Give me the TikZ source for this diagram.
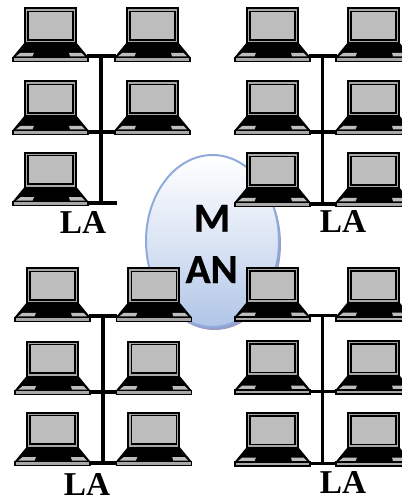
\documentclass[tikz,border=0pt]{standalone}
\usepackage{fontspec}
\usepackage{xcolor}
\usetikzlibrary{shapes.geometric}
\newfontfamily\labfont{Liberation Serif}[BoldFont={Liberation Serif Bold}]
\newfontfamily\manfont{Carlito}[BoldFeatures={FakeBold=0.6}]
\definecolor{screenband}{HTML}{A8A8A8}
\definecolor{screengray}{HTML}{BDBDBD}
\definecolor{manborder}{HTML}{8FAADC}
\definecolor{manfill}{HTML}{B0C5E7}
\tikzset{
	bus/.style={line width=2.7pt,black},
	lablan/.style={anchor=base,inner sep=0pt,font=\labfont\bfseries\fontsize{25}{25}\selectfont},
	labman/.style={anchor=base,inner sep=0pt,font=\manfont\bfseries\fontsize{31}{31}\selectfont},
	pics/laptop/.style={code={
		\draw[black,line width=1.4pt,fill=screenband] (1,1) rectangle (52,36);
		\draw[black,line width=1.1pt,fill=screengray] (4,4) rectangle (49,32.5);
		\fill[black] (0,36) -- (53,36) -- (64.5,50) -- (-11.5,50) -- cycle;
		\fill[screengray] (-8,49) -- (-3.5,45.5) -- (10,45.5) -- (8.5,49) -- cycle;
		\fill[screengray] (45,45.5) -- (57.5,45.5) -- (61,49) -- (46,49) -- cycle;
		\draw[black,line width=1.1pt,fill=screenband] (-11,50) rectangle (64,54);
		\coordinate (-left) at (-10,48.5);
		\coordinate (-right) at (63,48.5);
		\coordinate (-lowleft) at (-10,51.5);
		\coordinate (-lowright) at (63,51.5);
	}}
}
\begin{document}
\begin{tikzpicture}[x=0.75pt,y=-0.75pt]
	\useasboundingbox (0,0) rectangle (402,497);
	\clip (0,0) rectangle (402,497);
	\fill[white] (0,0) rectangle (402,497);
	% ellipse in the middle
	\fill[gray!70!blue!60] (214.5,244) ellipse (66.5 and 86);
	\node[ellipse,draw=manborder,line width=1.5pt,top color=white,bottom color=manfill,middle color=manfill!45!white,minimum width=99.75pt,minimum height=129pt,inner sep=0pt] (man) at (212.5,241) {};
	% top left
	\pic (a1) at (24,7.3) {laptop};
	\pic (a2) at (126,7.3) {laptop};
	\pic (a3) at (24,80.3) {laptop};
	\pic (a4) at (126,80.3) {laptop};
	\pic (a5) at (24,151.7) {laptop};
	\coordinate (aend) at (117,202.7);
	\coordinate (atop) at (101,55.8);
	\draw[bus] (a1-right) -- (a2-left);
	\draw[bus] (a3-lowright) -- (a4-lowleft);
	\draw[bus] (a5-lowright |- aend) -- (aend);
	\draw[bus] (atop) -- (atop |- aend);
	% top right
	\pic (b1) at (246,7.3) {laptop};
	\pic (b2) at (347,7.3) {laptop};
	\pic (b3) at (246,80.3) {laptop};
	\pic (b4) at (347,80.3) {laptop};
	\pic (b5) at (246,152.3) {laptop};
	\pic (b6) at (347,152.3) {laptop};
	\coordinate (btop) at (322.3,55.8);
	\draw[bus] (b1-right) -- (b2-left);
	\draw[bus] (b3-lowright) -- (b4-lowleft);
	\draw[bus] (b5-lowright) -- (b6-lowleft);
	\draw[bus] (btop) -- (btop |- b5-lowright);
	% bottom left
	\pic (c1) at (26,267.3) {laptop};
	\pic (c2) at (127.3,267.3) {laptop};
	\pic (c3) at (26,340.7) {laptop};
	\pic (c4) at (127.3,340.7) {laptop};
	\pic (c5) at (26,411.7) {laptop};
	\pic (c6) at (127.3,411.7) {laptop};
	\coordinate (ctop) at (102.7,315.8);
	\draw[bus] (c1-right) -- (c2-left);
	\draw[bus] (c3-lowright) -- (c4-lowleft);
	\draw[bus] (c5-lowright) -- (c6-lowleft);
	\draw[bus] (ctop) -- (ctop |- c5-lowright);
	% bottom right
	\pic (d1) at (246,267) {laptop};
	\pic (d2) at (347,267) {laptop};
	\pic (d3) at (246,340) {laptop};
	\pic (d4) at (347,340) {laptop};
	\pic (d5) at (246,412) {laptop};
	\pic (d6) at (347,412) {laptop};
	\coordinate (dtop) at (322.3,315.5);
	\draw[bus] (d1-right) -- (d2-left);
	\draw[bus] (d3-lowright) -- (d4-lowleft);
	\draw[bus] (d5-lowright) -- (d6-lowleft);
	\draw[bus] (dtop) -- (dtop |- d5-lowright);
	% labels
	\node[lablan] (laa) at (83,233) {LA};
	\node[lablan] (lab) at (343,232) {LA};
	\node[lablan] (lac) at (87,495) {LA};
	\node[lablan] (lad) at (343,493) {LA};
	\node[labman] (manm) at (212,231.7) {M};
	\node[labman] (manan) at (211.7,283) {AN};
\end{tikzpicture}
\end{document}
